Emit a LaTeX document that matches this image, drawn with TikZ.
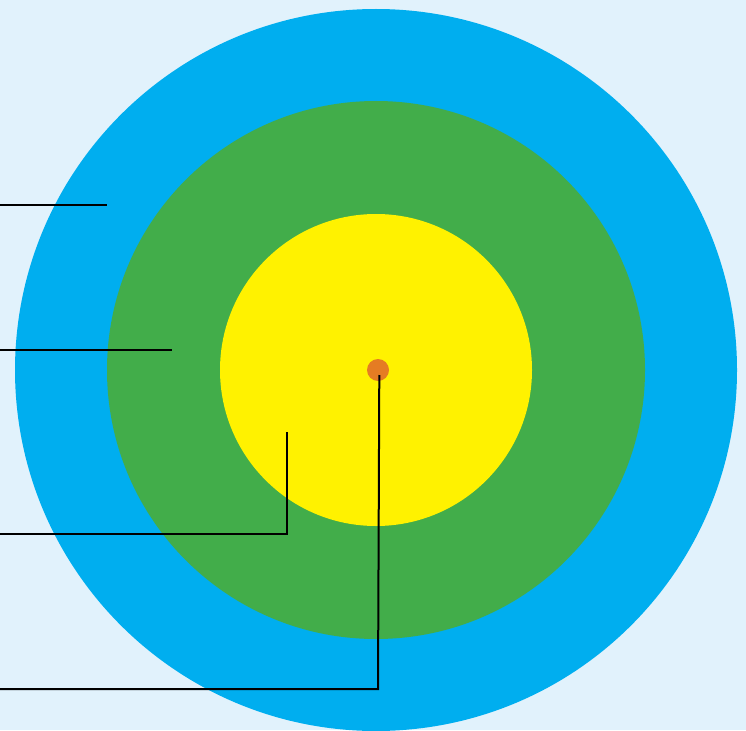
\documentclass[tikz,border=0pt]{standalone}
\definecolor{bgc}{HTML}{E1F2FC}
\definecolor{ringblue}{HTML}{00AEEF}
\definecolor{ringgreen}{HTML}{42AD4A}
\definecolor{ringyellow}{HTML}{FFF200}
\definecolor{dotorange}{HTML}{E57C23}
\begin{document}
\begin{tikzpicture}[x=1pt,y=-1pt,
  ring/.style={circle,inner sep=0pt,outer sep=0pt,draw=none},
  leader/.style={draw=black,line width=2pt,line join=miter}]
\fill[bgc] (0,0) rectangle (746,730);
\useasboundingbox (0,0) rectangle (746,730);
\begin{scope}
\clip (0,0) rectangle (746,730);
\node[ring,fill=ringblue,minimum size=722pt] (outer) at (376,370) {};
\node[ring,fill=ringgreen,minimum size=538pt] (middle) at (376,370) {};
\node[ring,fill=ringyellow,minimum size=312pt] (inner) at (376,370) {};
\node[ring,fill=dotorange,minimum size=22pt] (dot) at (378,370) {};
\end{scope}
\coordinate (a0) at (0,205);
\coordinate (a1) at (107,205);
\coordinate (b0) at (0,350);
\coordinate (b1) at (172,350);
\coordinate (c0) at (0,533.5);
\coordinate (c1) at (287,533.5);
\coordinate (c2) at (287,432);
\coordinate (d0) at (0,689);
\coordinate (d1) at (378,689);
\coordinate (d2) at (379.3,375);
\draw[leader] (a0) -- (a1);
\draw[leader] (b0) -- (b1);
\draw[leader] (c0) -- (c1) -- (c2);
\draw[leader] (d0) -- (d1) -- (d2);
\end{tikzpicture}
\end{document}
